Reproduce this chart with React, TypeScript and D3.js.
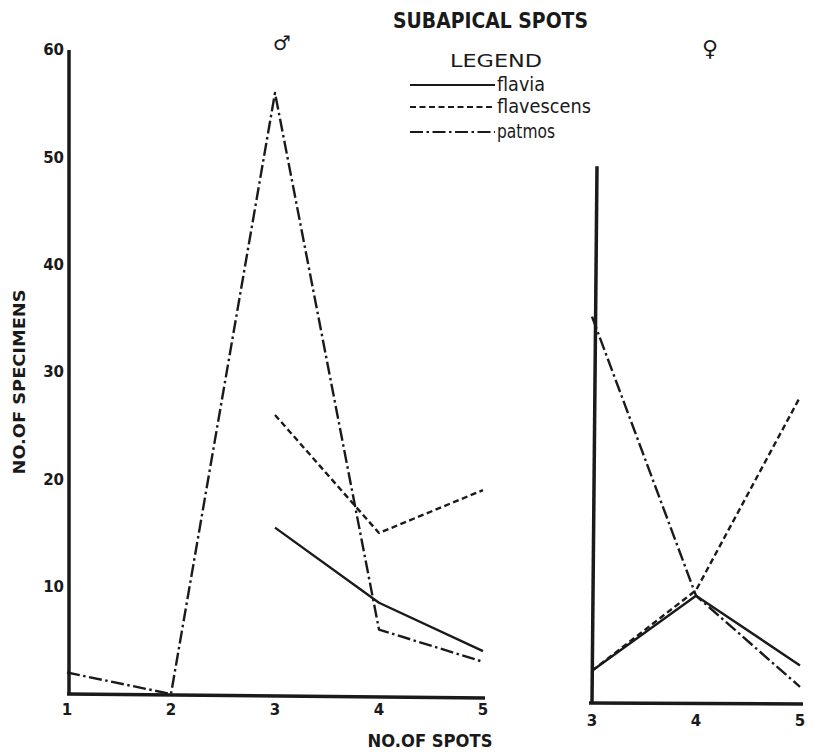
import React from 'react';
import * as d3 from 'd3';

// No. of spots on the x axis
const maleSpots = [1, 2, 3, 4, 5];
const femaleSpots = [3, 4, 5];
const yTicks = [10, 20, 30, 40, 50, 60];

// male (♂) counts, null where the species was not plotted
const maleFlavia = [null, null, 15.5, 8.5, 4];
const maleFlavescens = [null, null, 26, 15, 19];
const malePatmos = [2, 0, 56, 6, 3];

// female (♀) counts
const femaleFlavia = [3, 10, 3.5];
const femaleFlavescens = [3, 10.5, 28.5];
const femalePatmos = [36, 10, 1.5];

const legendNames = ['flavia', 'flavescens', 'patmos'];

const dashes: Record<string, string | undefined> = {
  flavia: undefined,
  flavescens: '6 3.5',
  patmos: '13 3.5 2.5 3.5',
};

const font = '"DejaVu Sans", sans-serif';
const ink = '#1a1a1a';

const App = () => {
  // male panel scales
  const xM = d3.scaleLinear().domain([1, 5]).range([67, 483]);
  const yM = d3.scaleLinear().domain([0, 60]).range([694, 50]);
  // female panel scales (same units, lower baseline)
  const xF = d3.scaleLinear().domain([3, 5]).range([592, 800]);
  const yF = d3.scaleLinear().domain([0, 60]).range([703, 59]);

  const lineM = d3.line<[number, number | null]>()
    .defined((d) => d[1] !== null)
    .x((d) => xM(d[0]))
    .y((d) => yM(d[1] as number));
  const lineF = d3.line<[number, number | null]>()
    .defined((d) => d[1] !== null)
    .x((d) => xF(d[0]))
    .y((d) => yF(d[1] as number));

  const maleSeries = [
    { name: 'flavia', values: maleFlavia },
    { name: 'flavescens', values: maleFlavescens },
    { name: 'patmos', values: malePatmos },
  ];
  const femaleSeries = [
    { name: 'flavia', values: femaleFlavia },
    { name: 'flavescens', values: femaleFlavescens },
    { name: 'patmos', values: femalePatmos },
  ];

  const legendY = [85, 107, 132];
  const legendTextLen = [48, 94, 58];

  return (
    <svg
      width={813}
      height={754}
      style={{ position: 'absolute', left: 0, top: 0, background: '#fff' }}
      fontFamily={font}
    >
      {/* title */}
      <text
        x={393} y={28} fontSize={21} fontWeight="bold" fill={ink}
        textLength={195} lengthAdjust="spacingAndGlyphs"
      >
        SUBAPICAL SPOTS
      </text>
      <text x={282} y={50} fontSize={20} fill={ink} textAnchor="middle" fontWeight="bold">♂</text>
      <text x={710} y={56} fontSize={22} fill={ink} textAnchor="middle" fontWeight="bold">♀</text>

      {/* legend */}
      <text x={450} y={67} fontSize={18} fill={ink} textLength={92} lengthAdjust="spacingAndGlyphs">
        LEGEND
      </text>
      {legendNames.map((n, i) => (
        <g key={n}>
          <line
            x1={410} x2={495} y1={legendY[i]} y2={legendY[i]}
            stroke={ink} strokeWidth={2.2} strokeDasharray={dashes[n]}
          />
          <text
            x={497} y={legendY[i] + 6} fontSize={19} fill={ink}
            textLength={legendTextLen[i]} lengthAdjust="spacingAndGlyphs"
          >
            {n}
          </text>
        </g>
      ))}

      {/* male axes */}
      <line x1={69} x2={69} y1={yM(60)} y2={yM(0)} stroke={ink} strokeWidth={3.5} />
      <line x1={xM(1)} x2={xM(5) + 2} y1={yM(0)} y2={yM(0) + 4} stroke={ink} strokeWidth={3.5} />
      {yTicks.map((t) => (
        <text
          key={t} x={64} y={yM(t)} dy="0.35em" textAnchor="end"
          fontSize={15} fontWeight="bold" fill={ink}
        >
          {t}
        </text>
      ))}
      {maleSpots.map((s) => (
        <text
          key={s} x={xM(s)} y={yM(0) + 16} dy="0.35em" textAnchor="middle"
          fontSize={15} fontWeight="bold" fill={ink}
        >
          {s}
        </text>
      ))}
      <text
        x={430} y={747} fontSize={17} fontWeight="bold" fill={ink} textAnchor="middle"
        textLength={125} lengthAdjust="spacingAndGlyphs"
      >
        NO.OF SPOTS
      </text>
      <text
        transform="translate(25,382) rotate(-90)" fontSize={16} fontWeight="bold" fill={ink}
        textAnchor="middle" textLength={185} lengthAdjust="spacingAndGlyphs"
      >
        NO.OF SPECIMENS
      </text>

      {/* male lines */}
      {maleSeries.map((s) => (
        <path
          key={s.name}
          d={lineM(maleSpots.map((x, i) => [x, s.values[i]] as [number, number | null])) || ''}
          fill="none" stroke={ink} strokeWidth={2.4} strokeDasharray={dashes[s.name]}
          strokeLinejoin="round"
        />
      ))}

      {/* female axes */}
      <line x1={xF(3)} x2={xF(3) + 5} y1={yF(0)} y2={yF(50)} stroke={ink} strokeWidth={3.5} />
      <line x1={xF(3) - 3} x2={xF(5) + 3} y1={yF(0)} y2={yF(0) + 1} stroke={ink} strokeWidth={3.5} />
      {femaleSpots.map((s) => (
        <text
          key={s} x={xF(s)} y={yF(0) + 18} dy="0.35em" textAnchor="middle"
          fontSize={15} fontWeight="bold" fill={ink}
        >
          {s}
        </text>
      ))}

      {/* female lines */}
      {femaleSeries.map((s) => (
        <path
          key={s.name}
          d={lineF(femaleSpots.map((x, i) => [x, s.values[i]] as [number, number | null])) || ''}
          fill="none" stroke={ink} strokeWidth={2.4} strokeDasharray={dashes[s.name]}
          strokeLinejoin="round"
        />
      ))}
    </svg>
  );
};

export default App;
